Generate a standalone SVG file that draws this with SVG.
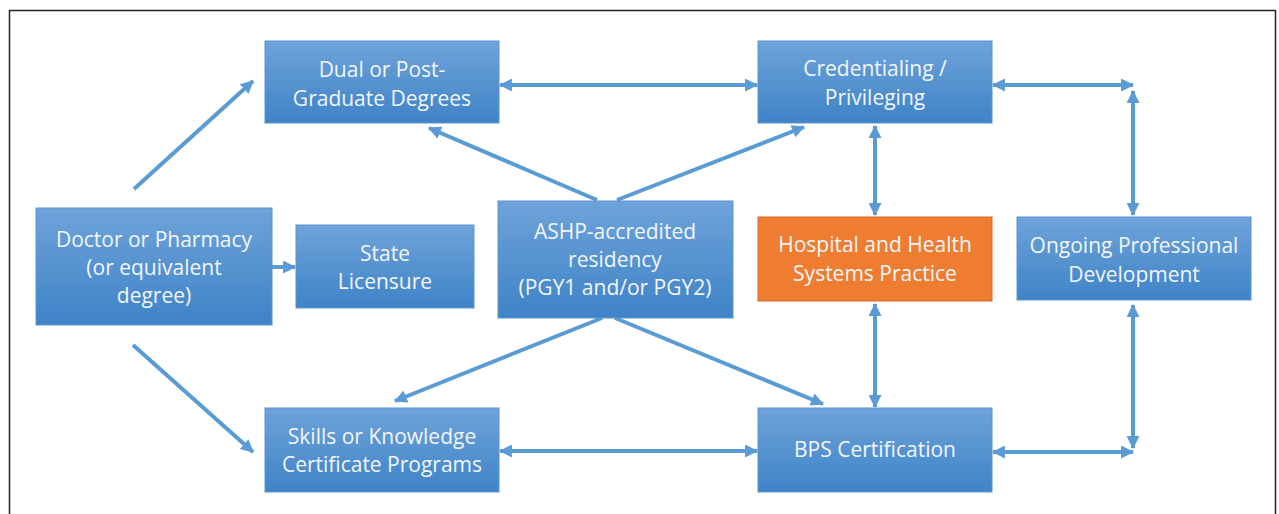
<svg xmlns="http://www.w3.org/2000/svg" width="1279" height="514" viewBox="0 0 1279 514">
<defs>
<linearGradient id="blue" x1="0" y1="0" x2="0" y2="1">
<stop offset="0" stop-color="#6ea3d9"/>
<stop offset="1" stop-color="#3f83c7"/>
</linearGradient>
<marker id="ah" viewBox="0 0 12 12" markerWidth="13" markerHeight="13" refX="11" refY="6" orient="auto-start-reverse" markerUnits="userSpaceOnUse">
<path d="M0,0 L12,6 L0,12 z" fill="#5b9bd5"/>
</marker>
</defs>
<style>
.box{fill:url(#blue);stroke:#5b96cf;stroke-width:1}
.org{fill:#ee7d31;stroke:#d9692a;stroke-width:1}
.t{font-family:"Open Sans","Noto Sans",sans-serif;font-size:21px;fill:#f2f6fa;text-anchor:middle}
.c{fill:none;stroke:#5b9bd5;stroke-width:4}
.one{marker-end:url(#ah)}
.two{marker-start:url(#ah);marker-end:url(#ah)}
</style>
<rect x="0" y="0" width="1279" height="514" fill="#ffffff"/>
<rect x="9.5" y="10.5" width="1266" height="520" fill="none" stroke="#222" stroke-width="1.5"/>
<g id="connectors">
<path class="c one" d="M134,189 L253,81"/>
<path class="c one" d="M272,267 L295,267"/>
<path class="c one" d="M133,345 L253,452"/>
<path class="c two" d="M500,85 L757,85"/>
<path class="c two" d="M993,85 L1133,85"/>
<path class="c two" d="M1133,91 L1133,215"/>
<path class="c two" d="M1133,305 L1133,448"/>
<path class="c two" d="M993,452 L1133,452"/>
<path class="c two" d="M500,451 L757,451"/>
<path class="c one" d="M597,200 L429,128"/>
<path class="c one" d="M617,200 L804,127"/>
<path class="c one" d="M602,318 L395,401"/>
<path class="c one" d="M615,318 L823,404"/>
<path class="c two" d="M875,126 L875,215"/>
<path class="c two" d="M875,304 L875,407"/>
</g>
<g id="dual">
<rect class="box" x="265" y="41" width="234" height="82"/>
<text class="t" x="382" y="77">Dual or Post-</text>
<text class="t" x="382" y="106">Graduate Degrees</text>
</g>
<g id="cred">
<rect class="box" x="758" y="41" width="234" height="82"/>
<text class="t" x="875" y="76">Credentialing /</text>
<text class="t" x="875" y="105">Privileging</text>
</g>
<g id="doctor">
<rect class="box" x="36" y="208" width="236" height="117"/>
<text class="t" x="154" y="247">Doctor or Pharmacy</text>
<text class="t" x="154" y="275">(or equivalent</text>
<text class="t" x="154" y="303">degree)</text>
</g>
<g id="state">
<rect class="box" x="296" y="225" width="178" height="83"/>
<text class="t" x="385" y="261">State</text>
<text class="t" x="385" y="289">Licensure</text>
</g>
<g id="ashp">
<rect class="box" x="498" y="201" width="235" height="117"/>
<text class="t" x="615" y="239">ASHP-accredited</text>
<text class="t" x="615" y="267">residency</text>
<text class="t" x="615" y="295">(PGY1 and/or PGY2)</text>
</g>
<g id="hospital">
<rect class="org" x="758" y="217" width="234" height="84"/>
<text class="t" x="875" y="252">Hospital and Health</text>
<text class="t" x="875" y="281">Systems Practice</text>
</g>
<g id="ongoing">
<rect class="box" x="1017" y="217" width="234" height="83"/>
<text class="t" x="1134" y="253">Ongoing Professional</text>
<text class="t" x="1134" y="282">Development</text>
</g>
<g id="skills">
<rect class="box" x="265" y="408" width="234" height="84"/>
<text class="t" x="382" y="444">Skills or Knowledge</text>
<text class="t" x="382" y="472">Certificate Programs</text>
</g>
<g id="bps">
<rect class="box" x="758" y="408" width="234" height="84"/>
<text class="t" x="875" y="457">BPS Certification</text>
</g>
</svg>
